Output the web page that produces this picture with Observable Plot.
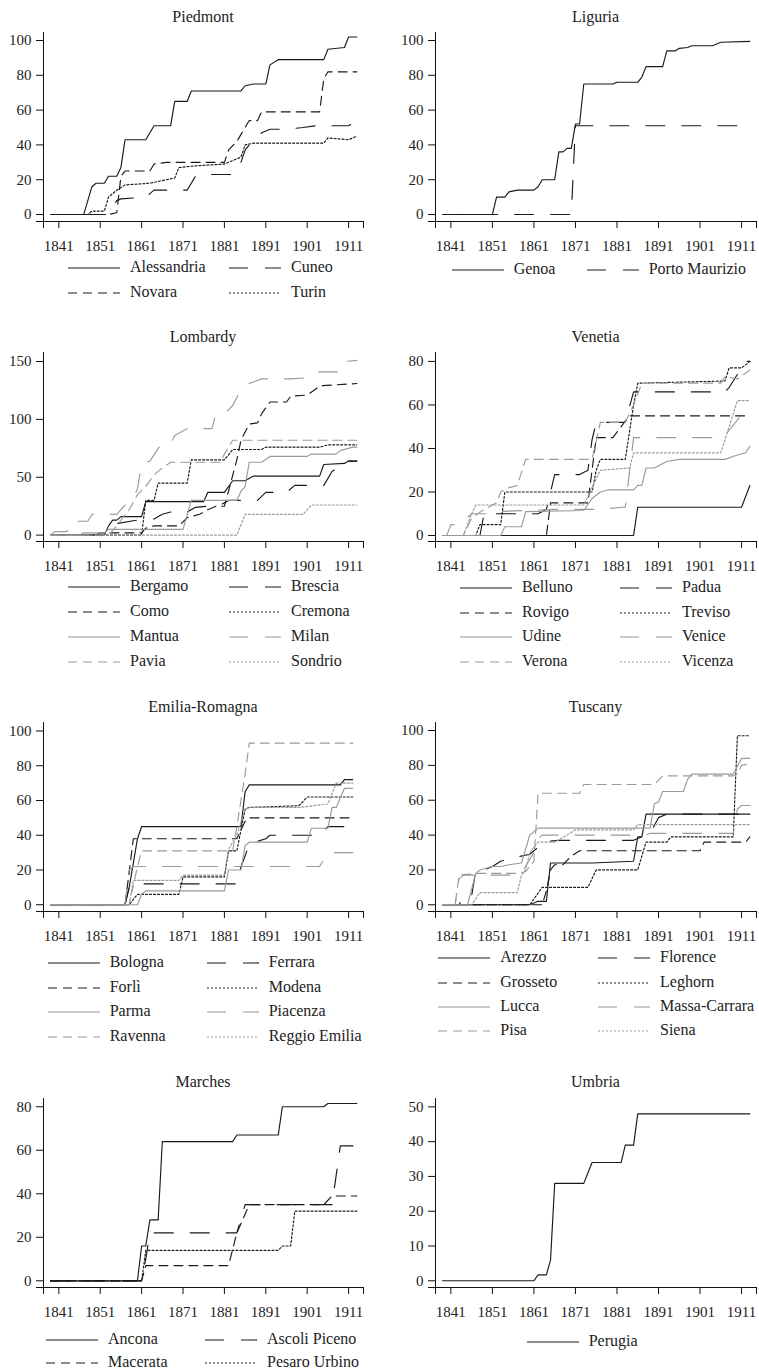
<!DOCTYPE html>
<html><head><meta charset="utf-8">
<script src="https://cdn.jsdelivr.net/npm/d3@7"></script>
<script src="https://cdn.jsdelivr.net/npm/@observablehq/plot@0.6"></script>
<style>
body{margin:0;background:#fff;font-family:"Liberation Serif","Times New Roman",serif;color:#222}
#root{position:relative;width:759px;height:1372px;overflow:hidden}
.ttl{position:absolute;font-size:16px;line-height:18px;text-align:center;white-space:nowrap}
.lab{position:absolute;font-size:16px;line-height:16px;white-space:nowrap}
.smp{position:absolute}
</style></head><body><div id="root"></div>
<script>
// ---------- axis ticks ----------
const xTicks = [1841, 1851, 1861, 1871, 1881, 1891, 1901, 1911];

// ---------- Piedmont ----------
const piedmontNames = ["Alessandria", "Cuneo", "Novara", "Turin"];
const alessandria = [[1839,0],[1847,0],[1849,16],[1850,18],[1852,18],[1853,22],[1855,22],[1856,27],[1857,43],[1862,43],[1864,51],[1868,51],[1869,65],[1872,65],[1873,71],[1885,71],[1886,74],[1888,75],[1891,75],[1892,86],[1894,89],[1905,89],[1906,95],[1910,96],[1911,102],[1913,102]];
const cuneo = [[1839,0],[1853,0],[1855,8],[1856,9],[1862,10],[1863,12],[1864,14],[1872,14],[1874,22],[1876,23],[1883,23],[1885,30],[1886,37],[1887,40],[1890,47],[1892,49],[1896,49],[1900,50],[1903,51],[1911,51],[1913,54]];
const novara = [[1839,0],[1853,0],[1855,1],[1856,22],[1857,25],[1863,25],[1864,29],[1867,30],[1881,30],[1882,37],[1884,42],[1886,50],[1887,54],[1889,54],[1890,59],[1904,59],[1905,78],[1906,82],[1913,82]];
const turin = [[1839,0],[1848,0],[1849,2],[1852,2],[1853,10],[1855,14],[1857,17],[1863,18],[1869,21],[1870,27],[1874,28],[1881,29],[1883,31],[1885,33],[1886,40],[1888,41],[1905,41],[1906,44],[1911,43],[1913,45]];
const piedmontTicks = [0, 20, 40, 60, 80, 100];

// ---------- Liguria ----------
const liguriaNames = ["Genoa", "Porto Maurizio"];
const genoa = [[1839,0],[1851,0],[1852,10],[1854,10],[1855,13],[1857,14],[1861,14],[1862,16],[1863,20],[1866,20],[1867,36],[1868,36],[1869,38],[1870,38],[1871,52],[1872,52],[1873,75],[1880,75],[1881,76],[1886,76],[1887,79],[1888,85],[1892,85],[1893,94],[1895,94],[1896,95.5],[1898,96],[1899,97],[1904,97],[1906,99],[1913,99.5]];
const portoMaurizio = [[1839,0],[1870,0],[1871,51],[1913,51]];
const liguriaTicks = [0, 20, 40, 60, 80, 100];

// ---------- Lombardy ----------
const lombardyNames = ["Bergamo", "Brescia", "Como", "Cremona", "Mantua", "Milan", "Pavia", "Sondrio"];
const bergamo = [[1839,0],[1852,0],[1853,8],[1854,13],[1855,13],[1856,16],[1861,16],[1862,29],[1876,29],[1877,37],[1881,37],[1883,47],[1886,47],[1888,51],[1904,51],[1905,61],[1910,62],[1911,64],[1913,64]];
const brescia = [[1839,0],[1852,0],[1853,5],[1855,10],[1860,13],[1864,14],[1866,18],[1868,20],[1872,20],[1874,24],[1877,25],[1880,26],[1882,30],[1889,30],[1891,37],[1896,37],[1898,43],[1905,43],[1907,55],[1909,60],[1911,64],[1913,64]];
const como = [[1839,0],[1850,0],[1851,2],[1861,2],[1862,6],[1864,8],[1870,8],[1872,15],[1875,18],[1877,22],[1879,25],[1881,25],[1882,38],[1884,65],[1885,82],[1887,96],[1889,97],[1890,105],[1892,115],[1896,115],[1897,120],[1901,121],[1903,126],[1904,129],[1913,131]];
const cremona = [[1839,0],[1861,0],[1862,30],[1864,30],[1865,45],[1872,45],[1873,65],[1881,65],[1883,74],[1890,74],[1891,76],[1904,76],[1906,78],[1913,78]];
const mantua = [[1839,0],[1846,0],[1847,2],[1852,2],[1853,5],[1871,5],[1873,30],[1884,30],[1885,38],[1886,42],[1887,63],[1890,63],[1892,68],[1901,68],[1902,70],[1908,70],[1909,73],[1912,76],[1913,76]];
const milan = [[1839,0],[1840,3],[1843,3],[1844,12],[1848,12],[1849,18],[1855,18],[1857,26],[1859,32],[1860,40],[1861,62],[1863,64],[1865,75],[1866,79],[1868,79],[1869,86],[1872,92],[1878,92],[1879,106],[1882,108],[1883,112],[1885,126],[1887,131],[1890,135],[1897,135],[1901,136],[1903,141],[1909,141],[1910,150],[1913,151]];
const pavia = [[1839,0],[1853,0],[1855,8],[1857,18],[1858,22],[1860,35],[1862,42],[1864,52],[1866,58],[1868,63],[1880,63],[1881,70],[1883,82],[1913,82]];
const sondrio = [[1839,0],[1884,0],[1886,18],[1900,18],[1902,26],[1913,26]];
const lombardyTicks = [0, 50, 100, 150];

// ---------- Venetia ----------
const venetiaNames = ["Belluno", "Padua", "Rovigo", "Treviso", "Udine", "Venice", "Verona", "Vicenza"];
const belluno = [[1839,0],[1885,0],[1886,13],[1911,13],[1913,23]];
const padua = [[1839,0],[1848,0],[1849,10],[1862,10],[1864,12],[1865,20],[1866,28],[1872,28],[1874,30],[1875,44],[1876,52],[1883,52],[1885,66],[1907,66],[1908,68],[1911,77],[1912,80],[1913,80]];
const rovigo = [[1839,0],[1864,0],[1865,15],[1874,15],[1876,45],[1880,45],[1882,50],[1884,55],[1913,55]];
const treviso = [[1839,0],[1847,0],[1848,5],[1853,5],[1854,20],[1875,20],[1876,30],[1877,35],[1883,35],[1885,60],[1886,70],[1907,71],[1908,77],[1911,77],[1913,80]];
const udine = [[1839,0],[1853,0],[1854,4],[1858,4],[1859,11],[1873,11.5],[1875,17],[1877,20],[1879,21],[1885,21],[1886,23],[1887,23],[1888,31],[1890,31],[1893,34],[1896,35],[1907,35],[1910,37],[1912,38],[1913,41]];
const venice = [[1839,0],[1840,0],[1841,5],[1843,5],[1846,10],[1850,10],[1852,11],[1866,12],[1877,12],[1882,13],[1883,13],[1885,45],[1905,45],[1907,46],[1910,53],[1913,60]];
const verona = [[1839,0],[1844,0],[1846,8],[1849,12],[1852,15],[1853,20],[1855,22],[1857,23],[1859,35],[1875,35],[1877,52],[1883,52],[1885,60],[1887,70],[1906,70],[1907,73],[1910,72],[1913,76]];
const vicenza = [[1839,0],[1844,0],[1846,10],[1847,14],[1873,14],[1877,30],[1884,31],[1885,38],[1906,38],[1910,62],[1913,62]];
const venetiaTicks = [0, 20, 40, 60, 80];

// ---------- Emilia-Romagna ----------
const emiliaNames = ["Bologna", "Ferrara", "Forlì", "Modena", "Parma", "Piacenza", "Ravenna", "Reggio Emilia"];
const bologna = [[1839,0],[1857,0],[1858,10],[1860,38],[1861,45],[1885,45],[1886,65],[1887,69],[1909,69],[1910,72],[1912,72]];
const ferrara = [[1839,0],[1857,0],[1858,10],[1859,10],[1861,12],[1884,12],[1885,22],[1886,28],[1887,35],[1891,38],[1892,40],[1904,40],[1906,45],[1911,45],[1912,51]];
const forli = [[1839,0],[1857,0],[1859,38],[1884,38],[1886,48],[1887,50],[1912,50]];
const modena = [[1839,0],[1858,0],[1860,6],[1870,6],[1871,16],[1881,16],[1882,31],[1884,31],[1886,55],[1887,56],[1899,57],[1901,62],[1912,62]];
const parma = [[1839,0],[1860,0],[1861,6],[1862,8],[1881,8],[1882,20],[1885,20],[1886,34],[1887,36],[1901,36],[1902,44],[1906,44],[1907,56],[1908,56],[1910,67],[1912,67]];
const piacenza = [[1839,0],[1857,0],[1858,20],[1859,22],[1904,22],[1906,30],[1912,30]];
const ravenna = [[1839,0],[1858,0],[1860,22],[1861,31],[1883,31],[1884,45],[1886,75],[1887,93],[1912,93]];
const reggioEmilia = [[1839,0],[1858,0],[1859,14],[1870,14],[1871,17],[1881,17],[1882,32],[1884,40],[1886,55],[1887,56],[1899,56],[1906,58],[1908,70],[1912,70]];
const emiliaTicks = [0, 20, 40, 60, 80, 100];

// ---------- Tuscany ----------
const tuscanyNames = ["Arezzo", "Florence", "Grosseto", "Leghorn", "Lucca", "Massa-Carrara", "Pisa", "Siena"];
const arezzo = [[1839,0],[1860,0],[1862,2],[1864,2],[1865,24],[1875,24],[1885,25],[1886,39],[1887,39],[1888,52],[1913,52]];
const florence = [[1839,0],[1843,0],[1844,5],[1846,5],[1847,20],[1849,20],[1851,22],[1853,25],[1856,27],[1860,29],[1862,33],[1863,36],[1867,37],[1885,37],[1887,39],[1889,41],[1891,50],[1893,52],[1913,52]];
const grosseto = [[1839,0],[1863,0],[1864,8],[1865,20],[1866,23],[1868,23],[1870,28],[1872,31],[1901,31],[1902,36],[1912,36],[1913,39]];
const leghorn = [[1839,0],[1860,0],[1863,10],[1874,10],[1876,20],[1886,20],[1888,36],[1893,36],[1894,39],[1909,39],[1910,97],[1913,97]];
const lucca = [[1839,0],[1845,0],[1847,18],[1848,20],[1851,22],[1853,22],[1855,23],[1858,24],[1860,40],[1862,44],[1889,44],[1890,58],[1891,59],[1892,65],[1897,65],[1898,72],[1899,75],[1909,75],[1911,84],[1913,84]];
const massaCarrara = [[1839,0],[1842,0],[1843,15],[1844,17],[1857,17],[1858,18],[1861,30],[1862,38],[1863,40],[1888,40],[1889,41],[1909,41],[1910,55],[1911,57],[1913,57]];
const pisa = [[1839,0],[1842,0],[1843,17],[1848,18],[1857,18],[1859,19],[1861,25],[1862,64],[1872,64],[1873,69],[1890,69],[1892,74],[1909,74],[1910,75],[1911,80],[1913,81]];
const siena = [[1839,0],[1846,0],[1848,7],[1857,7],[1858,17],[1859,20],[1860,30],[1862,36],[1866,36],[1869,40],[1871,43],[1885,43],[1886,46],[1913,46]];
const tuscanyTicks = [0, 20, 40, 60, 80, 100];

// ---------- Marches ----------
const marchesNames = ["Ancona", "Ascoli Piceno", "Macerata", "Pesaro Urbino"];
const ancona = [[1839,0],[1860,0],[1861,16],[1862,16],[1863,28],[1865,28],[1866,64],[1883,64],[1884,67],[1894,67],[1895,80],[1905,80],[1906,81.5],[1913,81.5]];
const ascoliPiceno = [[1839,0],[1861,0],[1862,10],[1863,22],[1884,22],[1886,35],[1907,35],[1909,62],[1913,62]];
const macerata = [[1839,0],[1861,0],[1862,7],[1882,7],[1884,22],[1887,35],[1905,35],[1907,39],[1913,39]];
const pesaroUrbino = [[1839,0],[1861,0],[1862,14],[1894,14],[1895,16],[1897,16],[1898,32],[1913,32]];
const marchesTicks = [0, 20, 40, 60, 80];

// ---------- Umbria ----------
const umbriaNames = ["Perugia"];
const perugia = [[1839,0],[1861,0],[1862,1.7],[1864,1.7],[1865,6],[1866,28],[1873,28],[1874,31],[1875,34],[1882,34],[1883,39],[1885,39],[1886,48],[1913,48]];
const umbriaTicks = [0, 10, 20, 30, 40, 50];

// ---------- panels (built from the arrays above) ----------
const panels = [
  {title: "Piedmont", names: piedmontNames, series: [alessandria, cuneo, novara, turin], yTicks: piedmontTicks},
  {title: "Liguria", names: liguriaNames, series: [genoa, portoMaurizio], yTicks: liguriaTicks},
  {title: "Lombardy", names: lombardyNames, series: [bergamo, brescia, como, cremona, mantua, milan, pavia, sondrio], yTicks: lombardyTicks},
  {title: "Venetia", names: venetiaNames, series: [belluno, padua, rovigo, treviso, udine, venice, verona, vicenza], yTicks: venetiaTicks},
  {title: "Emilia-Romagna", names: emiliaNames, series: [bologna, ferrara, forli, modena, parma, piacenza, ravenna, reggioEmilia], yTicks: emiliaTicks},
  {title: "Tuscany", names: tuscanyNames, series: [arezzo, florence, grosseto, leghorn, lucca, massaCarrara, pisa, siena], yTicks: tuscanyTicks},
  {title: "Marches", names: marchesNames, series: [ancona, ascoliPiceno, macerata, pesaroUrbino], yTicks: marchesTicks},
  {title: "Umbria", names: umbriaNames, series: [perugia], yTicks: umbriaTicks}
];

// ---------- layout & styles ----------
const xDomain = [1837.3, 1914.6];
const yDomains = [[-4.0,104.6],[-4.0,104.6],[-5.5,157.8],[-2.76,84.1],[-3.9,104.9],[-3.85,104.6],[-3.08,83.8],[-1.93,52.4]];
const cols = [{left:0, width:380, mL:43, mR:17}, {left:380, width:379, mL:55, mR:3}];
const plotTops = [32, 32, 352, 352, 722, 722, 1097.7, 1097.7];
const legendX = [[68,229],[71.7,206.7],[68,229],[80,240],[47.7,206.7],[58.3,218],[46,205],[146.7,0]];
const legendY = [[268,293],[270],[587.3,612.3,636.8,661.7],[588.3,612.5,637,661.7],[963.3,987.5,1012,1036.7],[958.3,982.5,1006.7,1031],[1340,1363.3],[1341.7]];
const PH = 189, MT = 6, MB = 40;
const BLACK = "#1a1a1a", GRAY = "#9a9a9a";
const styles = [
  {stroke: BLACK, dash: null}, {stroke: BLACK, dash: "19,17"}, {stroke: BLACK, dash: "9,6"}, {stroke: BLACK, dash: "2,2"},
  {stroke: GRAY, dash: null}, {stroke: GRAY, dash: "19,17"}, {stroke: GRAY, dash: "9,6"}, {stroke: GRAY, dash: "2,2"}
];

const root = document.getElementById("root");
const NS = "http://www.w3.org/2000/svg";

panels.forEach((p, pi) => {
  const c = cols[pi % 2];
  const yDom = yDomains[pi];
  const data = p.series.flatMap((s, k) => s.map(([year, value]) => ({k, name: p.names[k], year, value})));
  const chart = Plot.plot({
    width: c.width,
    height: MT + PH + MB,
    marginLeft: c.mL, marginRight: c.mR, marginTop: MT, marginBottom: MB,
    x: {domain: xDomain, label: null},
    y: {domain: yDom, label: null},
    style: {fontFamily: '"Liberation Serif","Times New Roman",serif', fontSize: "15px", color: "#222", background: "transparent", overflow: "visible"},
    marks: [
      ...p.names.map((n, k) => Plot.line(data.filter(d => d.k === k), {
        x: "year", y: "value", stroke: styles[k].stroke, strokeWidth: 1.15,
        strokeDasharray: styles[k].dash || undefined
      })),
      Plot.ruleX([xDomain[0]], {stroke: "#111", strokeWidth: 1}),
      Plot.ruleY([yDom[0]], {stroke: "#111", strokeWidth: 1}),
      Plot.axisX({ticks: [xDomain[0], ...xTicks, xDomain[1]], tickFormat: d => xTicks.includes(d) ? String(d) : "", tickSize: 7, tickPadding: 12, stroke: "#111", label: null}),
      Plot.axisY({ticks: [yDom[0], ...p.yTicks], tickFormat: d => p.yTicks.includes(d) ? String(d) : "", tickSize: 7, tickPadding: 5, stroke: "#111", label: null})
    ]
  });
  chart.style.position = "absolute";
  chart.style.left = c.left + "px";
  chart.style.top = (plotTops[pi] - MT) + "px";
  root.append(chart);

  const t = document.createElement("div");
  t.className = "ttl";
  t.textContent = p.title;
  t.style.left = (c.left + c.mL) + "px";
  t.style.width = (c.width - c.mL - c.mR) + "px";
  t.style.top = (plotTops[pi] - 15.5 - 9) + "px";
  root.append(t);

  p.names.forEach((n, k) => {
    const col = k % 2, row = Math.floor(k / 2);
    const x0 = c.left + legendX[pi][col];
    const y0 = legendY[pi][row];
    const s = document.createElementNS(NS, "svg");
    s.setAttribute("class", "smp");
    s.setAttribute("width", 52); s.setAttribute("height", 6);
    s.style.left = x0 + "px"; s.style.top = (y0 - 3) + "px";
    const ln = document.createElementNS(NS, "line");
    ln.setAttribute("x1", 0); ln.setAttribute("x2", 52); ln.setAttribute("y1", 3); ln.setAttribute("y2", 3);
    ln.setAttribute("stroke", styles[k].stroke); ln.setAttribute("stroke-width", 1.15);
    if (styles[k].dash) ln.setAttribute("stroke-dasharray", styles[k].dash);
    s.append(ln);
    root.append(s);
    const lb = document.createElement("div");
    lb.className = "lab";
    lb.textContent = n;
    lb.style.left = (x0 + 62) + "px";
    lb.style.top = (y0 - 9) + "px";
    root.append(lb);
  });
});
</script></body></html>
